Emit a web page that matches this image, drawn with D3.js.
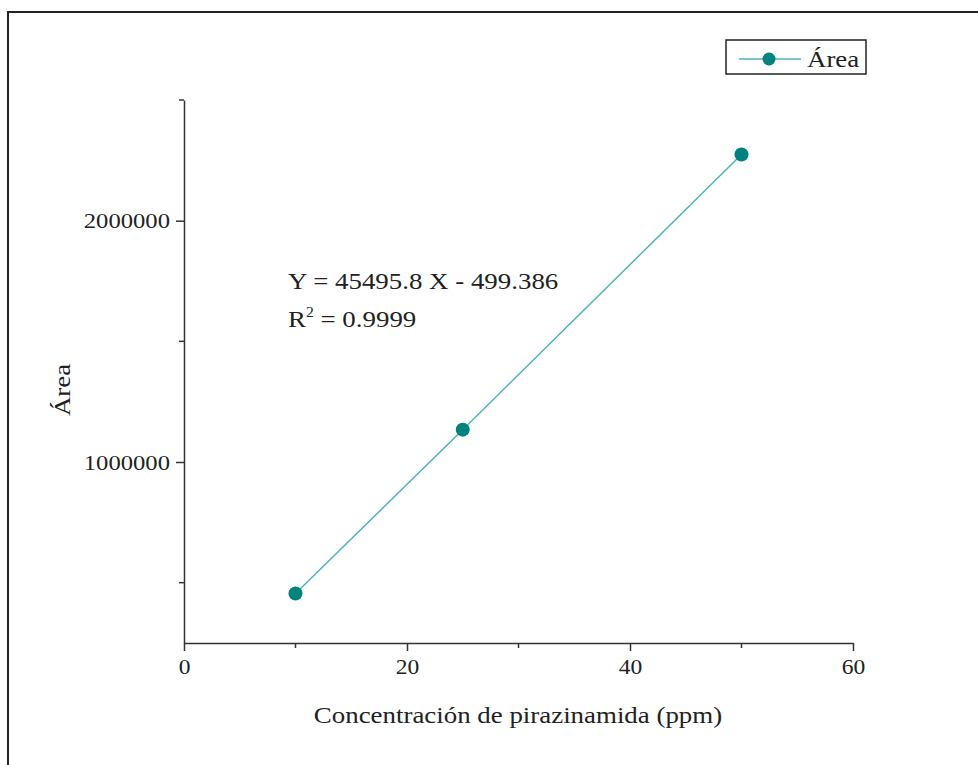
<!DOCTYPE html>
<html>
<head>
<meta charset="utf-8">
<script src="https://cdn.jsdelivr.net/npm/d3@7"></script>
<style>
  body { margin: 0; background: #fff; }
  text { font-family: "Liberation Serif", "Times New Roman", serif; fill: #222; }
</style>
</head>
<body>
<script>
var width = 978,
    height = 765;

// data
var concentracion = [10, 25, 50];
var area = [455000, 1134000, 2274000];
var xTicks = [0, 20, 40, 60];
var xMinor = [10, 30, 50];
var yTicks = [1000000, 2000000];
var yMinor = [500000, 1500000, 2500000];
var ecuacion = "Y = 45495.8 X - 499.386";
var r2 = "0.9999";
var serieNombre = "Área";

var lineColor = "#4fb5b3",
    markerColor = "#00827f";

var svg = d3.select("body")
    .append("svg")
    .attr("width", width)
    .attr("height", height);

// outer frame of the figure
svg.append("rect")
    .attr("x", 8)
    .attr("y", 12)
    .attr("width", 1000)
    .attr("height", 800)
    .attr("fill", "none")
    .attr("stroke", "#222")
    .attr("stroke-width", 2);

var x = d3.scaleLinear()
    .domain([0, 60])
    .range([184, 853]);

var y = d3.scaleLinear()
    .domain([250000, 2500000])
    .range([643, 100]);

// x axis
var xAxis = svg.append("g")
    .attr("transform", "translate(0," + y(250000) + ")")
    .call(d3.axisBottom(x).tickValues(xTicks).tickSize(8).tickPadding(8).tickSizeOuter(0));
xAxis.append("g").selectAll("line")
    .data(xMinor)
    .enter().append("line")
    .attr("x1", d => x(d)).attr("x2", d => x(d))
    .attr("y1", 0).attr("y2", 5)
    .attr("stroke", "#333").attr("stroke-width", 1.5);

// y axis
var yAxis = svg.append("g")
    .attr("transform", "translate(" + x(0) + ",0)")
    .call(d3.axisLeft(y).tickValues(yTicks).tickSize(8).tickPadding(6).tickSizeOuter(0)
        .tickFormat(d3.format("d")));
yAxis.append("g").selectAll("line")
    .data(yMinor)
    .enter().append("line")
    .attr("y1", d => y(d)).attr("y2", d => y(d))
    .attr("x1", 0).attr("x2", -5)
    .attr("stroke", "#333").attr("stroke-width", 1.5);

svg.selectAll(".domain, .tick line")
    .attr("stroke", "#333")
    .attr("stroke-width", 1.5);
svg.selectAll(".tick text")
    .attr("font-family", null)
    .attr("fill", "#222");
xAxis.selectAll(".tick text").attr("font-size", 21);
yAxis.selectAll(".tick text").attr("font-size", 22);

// axis titles
svg.append("text")
    .attr("x", 518)
    .attr("y", 723)
    .attr("text-anchor", "middle")
    .attr("font-size", 24)
    .text("Concentración de pirazinamida (ppm)");

svg.append("text")
    .attr("transform", "translate(70,390) rotate(-90)")
    .attr("text-anchor", "middle")
    .attr("font-size", 24)
    .text("Área");

// series
var pts = concentracion.map((c, i) => [c, area[i]]);

svg.append("path")
    .datum(pts)
    .attr("fill", "none")
    .attr("stroke", lineColor)
    .attr("stroke-width", 1.5)
    .attr("d", d3.line().x(d => x(d[0])).y(d => y(d[1])));

svg.selectAll(".pt")
    .data(pts)
    .enter().append("circle")
    .attr("class", "pt")
    .attr("cx", d => x(d[0]))
    .attr("cy", d => y(d[1]))
    .attr("r", 7)
    .attr("fill", markerColor);

// regression text
svg.append("text")
    .attr("x", 288)
    .attr("y", 289)
    .attr("font-size", 24)
    .text(ecuacion);

var r2Text = svg.append("text")
    .attr("x", 288)
    .attr("y", 327)
    .attr("font-size", 24);
r2Text.append("tspan").text("R");
r2Text.append("tspan").attr("dy", -10).attr("font-size", 14).text("2");
r2Text.append("tspan").attr("dy", 10).text(" = " + r2);

// legend
var legend = svg.append("g").attr("transform", "translate(726,40)");
legend.append("rect")
    .attr("width", 140)
    .attr("height", 34)
    .attr("fill", "#fff")
    .attr("stroke", "#222")
    .attr("stroke-width", 1.5);
legend.append("line")
    .attr("x1", 13).attr("x2", 75)
    .attr("y1", 19).attr("y2", 19)
    .attr("stroke", lineColor)
    .attr("stroke-width", 1.5);
legend.append("circle")
    .attr("cx", 43).attr("cy", 19)
    .attr("r", 6.5)
    .attr("fill", markerColor);
legend.append("text")
    .attr("x", 81)
    .attr("y", 27)
    .attr("font-size", 24)
    .text(serieNombre);

// the original type is a bit wider than our serif, stretch it
svg.selectAll("text").each(function () {
    var w = this.getComputedTextLength();
    d3.select(this)
        .attr("textLength", w * 1.12)
        .attr("lengthAdjust", "spacingAndGlyphs");
});
</script>
</body>
</html>
